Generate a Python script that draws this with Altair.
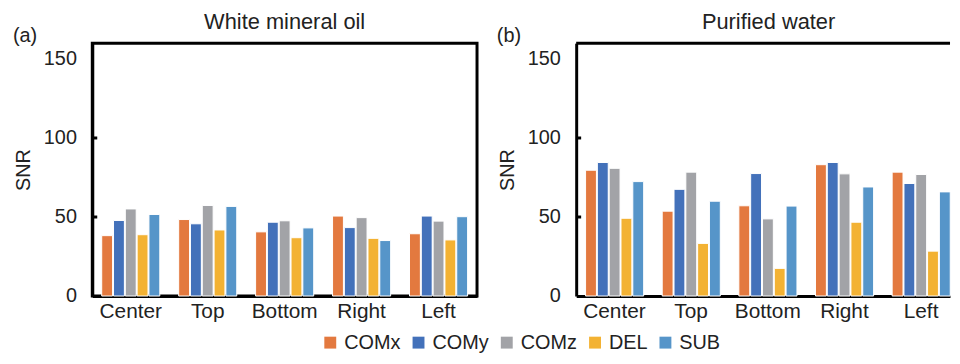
import altair as alt
import pandas as pd

positions = ["Center", "Top", "Bottom", "Right", "Left"]
methods = ["COMx", "COMy", "COMz", "DEL", "SUB"]
colors = ["#E3793F", "#4371BA", "#A2A3A7", "#F3B233", "#5695C9"]
y_ticks = [0, 50, 100, 150]

oil_comx = [38.2, 48.4, 40.6, 50.6, 39.4]
oil_comy = [47.8, 45.7, 46.7, 43.3, 50.6]
oil_comz = [55.1, 57.3, 47.6, 49.6, 47.4]
oil_del = [38.8, 41.8, 36.9, 36.5, 35.5]
oil_sub = [51.6, 56.7, 43.1, 35.1, 50.2]

water_comx = [79.6, 53.7, 57.1, 83.1, 78.4]
water_comy = [84.5, 67.5, 77.5, 84.5, 71.2]
water_comz = [80.8, 78.4, 48.8, 77.3, 76.9]
water_del = [49.2, 33.3, 17.5, 46.7, 28.4]
water_sub = [72.4, 60.0, 56.9, 69.0, 65.9]

FONT = "Liberation Sans"
TXT = "#222222"
FULL_W = 388  # width of a complete panel


def long_df(series):
    rows = []
    for m, vals in zip(methods, series):
        for p, v in zip(positions, vals):
            rows.append({"position": p, "method": m, "value": v})
    return pd.DataFrame(rows)


oil_df = long_df([oil_comx, oil_comy, oil_comz, oil_del, oil_sub])
water_df = long_df([water_comx, water_comy, water_comz, water_del, water_sub])


def panel(df, title, tag, width, full_frame, x_scale):
    bars = alt.Chart(df).mark_bar(stroke="white", strokeWidth=1).encode(
        x=alt.X(
            "position:N",
            sort=positions,
            scale=x_scale,
            axis=alt.Axis(
                title=None, labelAngle=0, labelFontSize=21, labelPadding=5,
                ticks=False, domainWidth=3, domainColor="black",
                labelColor=TXT, labelFont=FONT,
            ),
        ),
        xOffset=alt.XOffset("method:N", sort=methods, scale=alt.Scale(paddingInner=0.08)),
        y=alt.Y(
            "value:Q",
            scale=alt.Scale(domain=[0, 150]),
            axis=alt.Axis(
                values=y_ticks, title="SNR", grid=False, ticks=False,
                labelFontSize=20, labelPadding=16, labelFont=FONT, labelColor=TXT,
                domainWidth=3, domainColor="black",
                titleFontSize=20, titleFontWeight="normal", titleFont=FONT,
                titleColor=TXT, titlePadding=10,
            ),
        ),
        color=alt.Color(
            "method:N",
            sort=methods,
            scale=alt.Scale(domain=methods, range=colors),
            legend=alt.Legend(title=None),
        ),
    )
    ticks = alt.Chart(pd.DataFrame({"value": y_ticks[1:3]})).mark_rule(
        color="black", strokeWidth=3
    ).encode(x=alt.value(0), x2=alt.value(5), y=alt.Y("value:Q", title="SNR"))
    tag_text = alt.Chart(pd.DataFrame({"t": [tag]})).mark_text(
        align="left", baseline="middle", fontSize=20, font=FONT, color=TXT
    ).encode(x=alt.value(-80), y=alt.value(-7), text="t:N")
    title_text = alt.Chart(pd.DataFrame({"t": [title]})).mark_text(
        align="center", baseline="alphabetic", fontSize=22, font=FONT, color=TXT
    ).encode(x=alt.value(FULL_W / 2), y=alt.value(-14.5), text="t:N")
    layers = [bars, ticks, tag_text, title_text]
    if full_frame:
        view = alt.ViewBackground(stroke="black", strokeWidth=3)
    else:
        view = alt.ViewBackground(stroke="transparent", strokeWidth=0)
        top_border = alt.Chart(pd.DataFrame({"t": [0]})).mark_rule(
            color="black", strokeWidth=3
        ).encode(x=alt.value(0), x2=alt.value(width), y=alt.value(0))
        layers.append(top_border)
    return alt.layer(*layers).properties(width=width, height=255, view=view)


scale_a = alt.Scale(paddingInner=0.245, paddingOuter=0.1225)
scale_b = alt.Scale(paddingInner=0.245, paddingOuter=0.0612, align=1)

chart = alt.hconcat(
    panel(oil_df, "White mineral oil", "(a)", FULL_W, True, scale_a),
    panel(water_df, "Purified water", "(b)", 377, False, scale_b),
    spacing=18,
).properties(
    padding={"left": 3, "top": 0, "right": 0, "bottom": 0}
).configure_legend(
    orient="none", legendX=230, legendY=292, direction="horizontal",
    symbolType="square", symbolSize=144, symbolStrokeWidth=0,
    labelFontSize=20, labelFont=FONT, labelColor=TXT,
    labelOffset=4, columnPadding=8,
)

chart.save("out.html", embed_options={"renderer": "svg", "actions": False})
